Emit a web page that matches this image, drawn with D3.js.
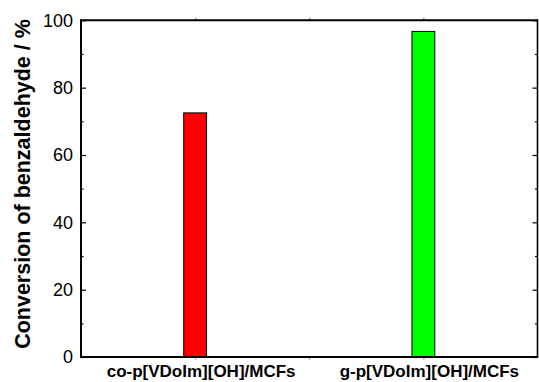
<!DOCTYPE html>
<html>
<head>
<meta charset="utf-8">
<script src="https://cdn.jsdelivr.net/npm/d3@7"></script>
<style>
  body { margin: 0; background: #fff; }
  svg { display: block; font-family: "Liberation Sans", Arial, sans-serif; }
</style>
</head>
<body>
<svg id="chart"></svg>
<script>
const width = 539;
const height = 382;

// data
const categories = ['co-p[VDoIm][OH]/MCFs', 'g-p[VDoIm][OH]/MCFs'];
const conversion = [72.5, 96.7];
const barColors = ['#ff0000', '#00ff00'];
const yMajorTicks = [0, 20, 40, 60, 80, 100];
const yMinorTicks = [10, 30, 50, 70, 90];
const xTicks = [1, 1.5, 2];

const plotLeft = 81, plotRight = 537.5, plotTop = 20.3, plotBottom = 357;

const svg = d3.select('#chart')
    .attr('width', width)
    .attr('height', height);

const x = d3.scaleLinear().domain([0.5, 2.5]).range([plotLeft, plotRight]);
const y = d3.scaleLinear().domain([0, 100]).range([plotBottom, plotTop]);

const barHalf = 0.05;

// bars
svg.selectAll('rect.bar')
    .data(conversion)
    .enter()
    .append('rect')
    .attr('class', 'bar')
    .attr('x', (d, i) => x(i + 1 - barHalf))
    .attr('width', (d, i) => x(i + 1 + barHalf) - x(i + 1 - barHalf))
    .attr('y', d => y(d))
    .attr('height', d => y(0) - y(d))
    .attr('fill', (d, i) => barColors[i])
    .attr('stroke', '#000')
    .attr('stroke-width', 1);

// left axis, majors with labels
const yAxis = svg.append('g')
    .attr('transform', `translate(${plotLeft},0)`)
    .call(d3.axisLeft(y).tickValues(yMajorTicks).tickSize(-5).tickPadding(8));
yAxis.selectAll('text').attr('font-size', 18).attr('fill', '#000')
    .style('font-family', '"Liberation Sans", Arial, sans-serif');

svg.append('g')
    .attr('transform', `translate(${plotLeft},0)`)
    .call(d3.axisLeft(y).tickValues(yMinorTicks).tickSize(-2.5).tickFormat(''));

// right axis mirror
svg.append('g')
    .attr('transform', `translate(${plotRight},0)`)
    .call(d3.axisRight(y).tickValues(yMajorTicks).tickSize(-5).tickFormat(''));
svg.append('g')
    .attr('transform', `translate(${plotRight},0)`)
    .call(d3.axisRight(y).tickValues(yMinorTicks).tickSize(-2.5).tickFormat(''));

// bottom and top small ticks
svg.append('g')
    .attr('class', 'xt')
    .attr('transform', `translate(0,${plotBottom})`)
    .call(d3.axisBottom(x).tickValues(xTicks).tickSize(2.5).tickFormat(''));
svg.append('g')
    .attr('class', 'xt')
    .attr('transform', `translate(0,${plotTop})`)
    .call(d3.axisTop(x).tickValues(xTicks).tickSize(2.5).tickFormat(''));

svg.selectAll('.domain').remove();
svg.selectAll('.tick line').attr('stroke-width', 1.2);
svg.selectAll('.xt .tick line').attr('stroke', '#888');

// frame
svg.append('line').attr('x1', plotLeft).attr('x2', plotLeft).attr('y1', plotTop - 1).attr('y2', plotBottom + 1)
    .attr('stroke', '#000').attr('stroke-width', 2);
svg.append('line').attr('x1', plotLeft - 1).attr('x2', plotRight).attr('y1', plotBottom).attr('y2', plotBottom)
    .attr('stroke', '#000').attr('stroke-width', 2);
svg.append('line').attr('x1', plotLeft - 1).attr('x2', plotRight).attr('y1', plotTop).attr('y2', plotTop)
    .attr('stroke', '#000').attr('stroke-width', 2);
svg.append('line').attr('x1', plotRight).attr('x2', plotRight).attr('y1', plotTop - 1).attr('y2', plotBottom + 1)
    .attr('stroke', '#000').attr('stroke-width', 1.6);

// category labels
svg.selectAll('text.cat')
    .data(categories)
    .enter()
    .append('text')
    .attr('class', 'cat')
    .attr('x', (d, i) => x(i + 1) + 6)
    .attr('y', 377)
    .attr('text-anchor', 'middle')
    .attr('font-size', 17)
    .attr('font-weight', 'bold')
    .text(d => d);

// y title
svg.append('text')
    .attr('transform', `translate(30,184) rotate(-90)`)
    .attr('text-anchor', 'middle')
    .attr('font-size', 21.5)
    .attr('font-weight', 'bold')
    .text('Conversion of benzaldehyde / %');
</script>
</body>
</html>
